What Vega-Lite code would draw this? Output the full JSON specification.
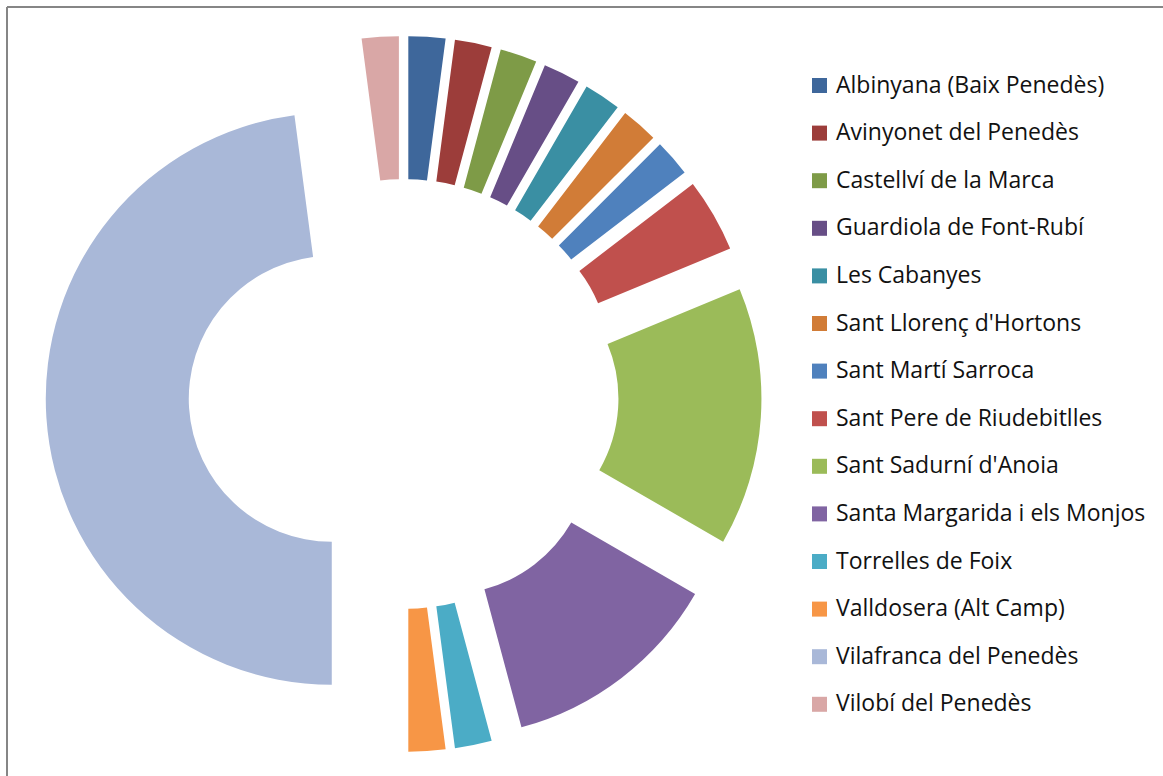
{
  "$schema": "https://vega.github.io/schema/vega-lite/v6.json",
  "width": 1156,
  "height": 769,
  "autosize": {"type": "none"},
  "padding": {"left": 7, "top": 7, "right": 0, "bottom": 0},
  "background": "white",
  "config": {
    "view": {"stroke": "#868686", "strokeWidth": 2, "strokeDash": [1156, 1925, 769, 0]},
    "font": "Open Sans"
  },
  "data": {
    "values": [
      {"name": "Albinyana (Baix Penedès)", "count": 1, "order": 1},
      {"name": "Avinyonet del Penedès", "count": 1, "order": 2},
      {"name": "Castellví de la Marca", "count": 1, "order": 3},
      {"name": "Guardiola de Font-Rubí", "count": 1, "order": 4},
      {"name": "Les Cabanyes", "count": 1, "order": 5},
      {"name": "Sant Llorenç d'Hortons", "count": 1, "order": 6},
      {"name": "Sant Martí Sarroca", "count": 1, "order": 7},
      {"name": "Sant Pere de Riudebitlles", "count": 2, "order": 8},
      {"name": "Sant Sadurní d'Anoia", "count": 7, "order": 9},
      {"name": "Santa Margarida i els Monjos", "count": 6, "order": 10},
      {"name": "Torrelles de Foix", "count": 1, "order": 11},
      {"name": "Valldosera (Alt Camp)", "count": 1, "order": 12},
      {"name": "Vilafranca del Penedès", "count": 23, "order": 13},
      {"name": "Vilobí del Penedès", "count": 1, "order": 14}
    ]
  },
  "transform": [
    {"window": [{"op": "sum", "field": "count", "as": "cum"}], "sort": [{"field": "order"}], "frame": [null, 0]},
    {"joinaggregate": [{"op": "sum", "field": "count", "as": "total"}]},
    {"calculate": "2*PI*(datum.cum - datum.count)/datum.total", "as": "a0"},
    {"calculate": "2*PI*datum.cum/datum.total", "as": "a1"},
    {"calculate": "0.2517*sin((datum.a0+datum.a1)/2)", "as": "ex"},
    {"calculate": "0.2517*cos((datum.a0+datum.a1)/2)", "as": "ey"}
  ],
  "mark": {"type": "arc", "radius": 286, "innerRadius": 143},
  "encoding": {
    "x": {"field": "ex", "type": "quantitative", "scale": {"domain": [-1.3867, 2.6552], "nice": false, "zero": false}, "axis": null},
    "y": {"field": "ey", "type": "quantitative", "scale": {"domain": [-1.3357, 1.3531], "nice": false, "zero": false}, "axis": null},
    "theta": {"field": "a0", "type": "quantitative", "scale": null},
    "theta2": {"field": "a1"},
    "color": {
      "field": "name",
      "type": "nominal",
      "sort": {"field": "order"},
      "scale": {
        "domain": ["Albinyana (Baix Penedès)", "Avinyonet del Penedès", "Castellví de la Marca", "Guardiola de Font-Rubí", "Les Cabanyes", "Sant Llorenç d'Hortons", "Sant Martí Sarroca", "Sant Pere de Riudebitlles", "Sant Sadurní d'Anoia", "Santa Margarida i els Monjos", "Torrelles de Foix", "Valldosera (Alt Camp)", "Vilafranca del Penedès", "Vilobí del Penedès"],
        "range": ["#3E679B", "#9C3D3A", "#7E9B47", "#674E86", "#3A8FA3", "#D17C37", "#4F81BD", "#C0504D", "#9BBB59", "#8064A2", "#4BACC6", "#F79646", "#A9B8D8", "#D9A7A6"]
      },
      "legend": {
        "orient": "none",
        "legendX": 801,
        "legendY": 67,
        "title": null,
        "padding": 0,
        "symbolType": "square",
        "symbolSize": 225,
        "symbolStrokeWidth": 0,
        "labelFont": "Open Sans",
        "labelFontSize": 23,
        "labelColor": "#111111",
        "labelOffset": 5,
        "rowPadding": 23.6,
        "labelLimit": 400
      }
    }
  }
}
